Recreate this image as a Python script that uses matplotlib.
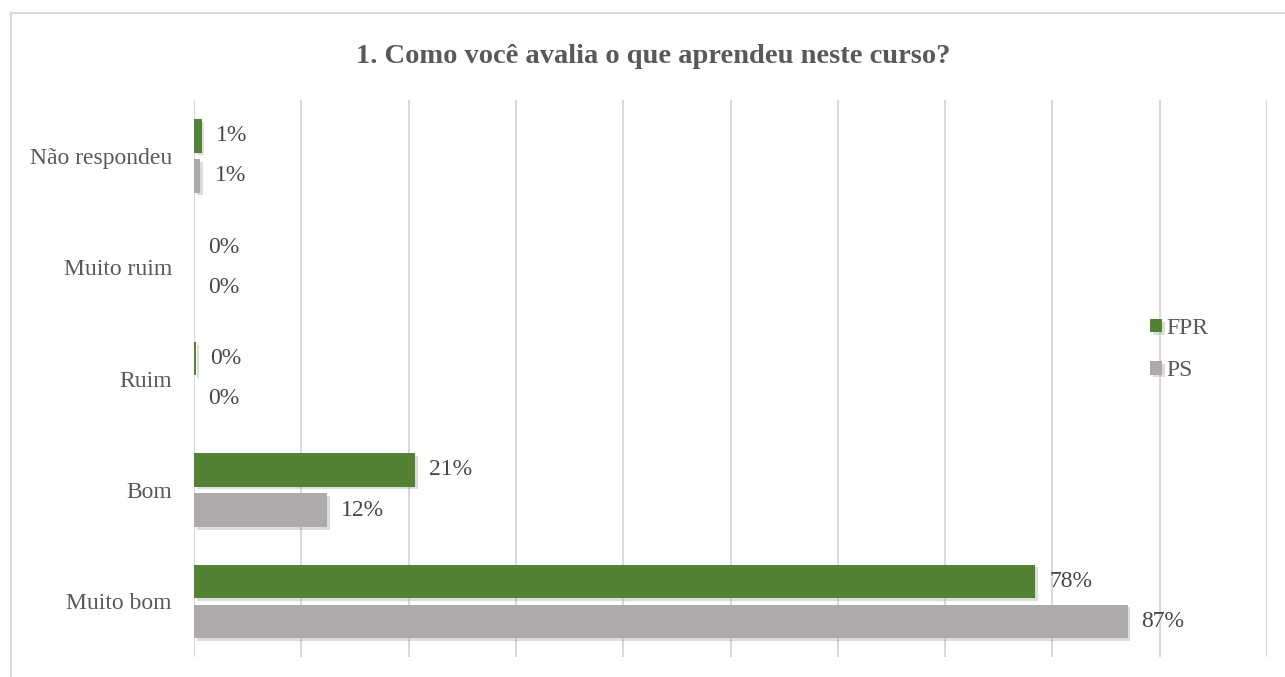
import matplotlib
matplotlib.use('Agg')
import matplotlib.pyplot as plt
import matplotlib.patheffects as pe
from matplotlib.lines import Line2D

# Respostas por categoria (fração dos respondentes)
categorias = ['Muito bom', 'Bom', 'Ruim', 'Muito ruim', 'Não respondeu']
fpr = [0.784, 0.206, 0.002, 0.0, 0.007]
ps = [0.870, 0.124, 0.0, 0.0, 0.006]
series = ['FPR', 'PS']

verde = '#548235'
cinza = '#AEAAAA'
texto = '#595959'

plt.rcParams['font.family'] = ['Liberation Serif', 'DejaVu Serif']

fig = plt.figure(figsize=(12.85, 6.77), dpi=100)
ax = fig.add_axes([0.151, 0.0295, 0.835, 0.8225])

y = list(range(len(categorias)))
altura = 0.3
desloc = 0.18
sombra = [pe.SimplePatchShadow(offset=(2, -2), shadow_rgbFace='#777777', alpha=0.25), pe.Normal()]

barras_fpr = ax.barh([v + desloc for v in y], fpr, height=altura, color=verde, label=series[0])
barras_ps = ax.barh([v - desloc for v in y], ps, height=altura, color=cinza, label=series[1])

for barras, vals in ((barras_fpr, fpr), (barras_ps, ps)):
    for b, v in zip(barras, vals):
        if v > 0:
            b.set_path_effects(sombra)
        ax.annotate(f'{v:.0%}', xy=(v, b.get_y() + b.get_height() / 2),
                    xytext=(14, 0), textcoords='offset pixels',
                    va='center', ha='left', fontsize=17, color='#474747')

ax.set_xlim(0, 1.0)
ax.set_ylim(-0.5, 4.5)
ax.set_xticks([i / 10 for i in range(11)])
ax.set_xticklabels([])
ax.set_yticks(y)
ax.set_yticklabels(categorias, fontsize=17, color=texto)
ax.tick_params(axis='both', length=0)
ax.tick_params(axis='y', pad=16)
ax.xaxis.grid(True, color='#D9D9D9', linewidth=1.5)
ax.set_axisbelow(True)
for s in ax.spines.values():
    s.set_visible(False)

leg = ax.legend(loc='center left', bbox_to_anchor=(0.891, 0.552), frameon=False,
                fontsize=17, handlelength=0.5, handleheight=0.5, handletextpad=0.2,
                labelspacing=0.9, borderpad=0, borderaxespad=0)
for t in leg.get_texts():
    t.set_color(texto)

fig.text(0.508, 0.917, '1. Como você avalia o que aprendeu neste curso?',
         ha='center', va='center', fontsize=20.5, fontweight='bold', color=texto)

# moldura da área do gráfico
fig.add_artist(Line2D([11 / 1285, 11 / 1285], [0, 1 - 13 / 677], transform=fig.transFigure,
                      color='#D9D9D9', linewidth=1.5))
fig.add_artist(Line2D([11 / 1285, 1], [1 - 13 / 677, 1 - 13 / 677], transform=fig.transFigure,
                      color='#D9D9D9', linewidth=1.5))

fig.savefig('out.png', dpi=100)
